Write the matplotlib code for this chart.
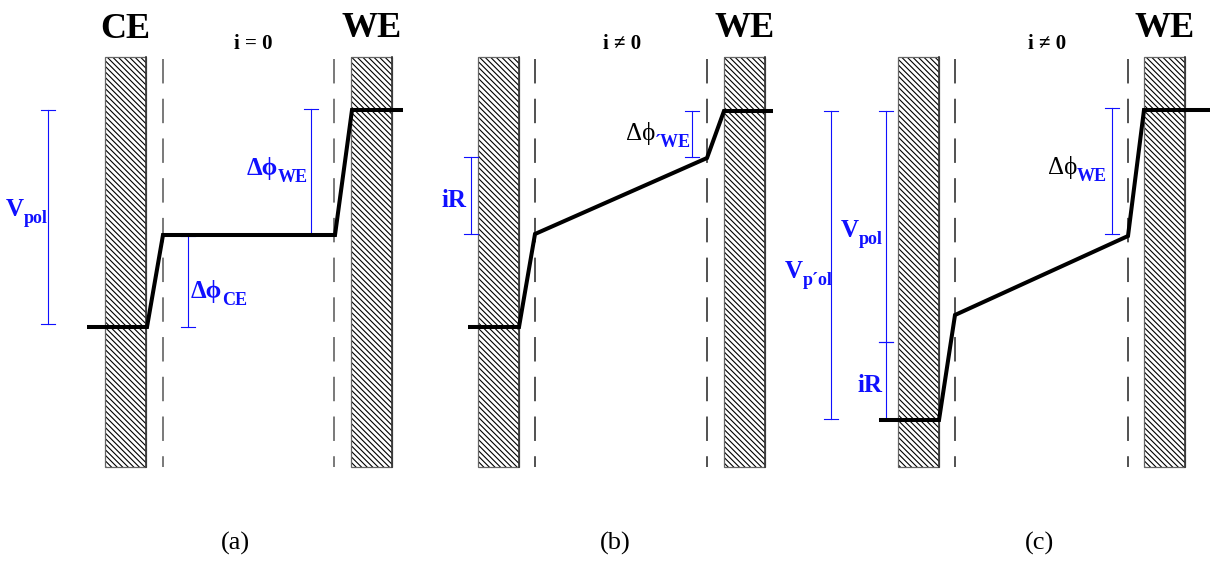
import matplotlib.pyplot as plt
from matplotlib.patches import Rectangle

plt.rcParams['font.family'] = ['Liberation Serif', 'DejaVu Serif']
plt.rcParams['hatch.linewidth'] = 0.8

## Panel captions and headers
panel_names = ["(a)", "(b)", "(c)"]
panel_currents = ["i = 0", "i \u2260 0", "i \u2260 0"]
name_x = [235, 615, 1040]
current_x = [253, 622, 1047]

## Electrodes: left edge of CE and WE blocks in each panel, block width
ce_left = [105, 478, 898]
we_left = [351, 724, 1144]
block_w = 41
block_top, block_bot = 57, 467

## Outer Helmholtz planes (dashed)
ohp_ce = [163, 535, 955]
ohp_we = [334, 707, 1128]
ohp_col = ["#555555", "#222222", "#222222"]

## Potential profiles: x nodes and potential (drawn downward in pixel units)
prof_x = [
    [87, 147, 163, 335, 352, 403],
    [468, 519, 535, 707, 724, 773],
    [879, 939, 955, 1128, 1144, 1210],
]
prof_y = [
    [327, 327, 235, 235, 110, 110],
    [327, 327, 234, 158, 111, 111],
    [420, 420, 315, 236, 110, 110],
]

## Blue dimension brackets: x, top, bottom
brackets = [
    (48, 110, 324), (311, 109, 235), (188, 236, 327),
    (471, 157, 234), (692, 111, 157),
    (831, 111, 419), (886, 111, 342), (886, 342, 419), (1112, 108, 234),
]

## Labels: split x, baseline, main text, subscript, main colour, main weight
PHI = "\u0394\u03d5"
labels = [
    (24, 216, "V", "pol", "blue", "bold"),
    (278, 175, PHI, "WE", "blue", "bold"),
    (222, 298, PHI, "CE", "blue", "bold"),
    (467, 207, "iR", "", "blue", "bold"),
    (655, 140, PHI, "\u00b4WE", "black", "normal"),
    (1077, 174, PHI, "WE", "black", "normal"),
    (859, 237, "V", "pol", "blue", "bold"),
    (803, 278, "V", "p\u00b4ol", "blue", "bold"),
    (883, 392, "iR", "", "blue", "bold"),
]

blue = "#1010ff"

fig = plt.figure(figsize=(12.1, 5.61), dpi=100)
ax = fig.add_axes([0, 0, 1, 1])
ax.set_xlim(0, 1210)
ax.set_ylim(561, 0)
ax.axis("off")

for k in range(3):
    ## hatched electrode blocks
    for xl in (ce_left[k], we_left[k]):
        ax.add_patch(Rectangle((xl, block_top), block_w, block_bot - block_top,
                               facecolor="white", edgecolor="black", lw=0,
                               hatch="\\" * 6, zorder=1))
        ax.add_patch(Rectangle((xl, block_top), block_w, block_bot - block_top,
                               fill=False, edgecolor="#666666", lw=0.9, zorder=2))
        ax.plot([xl + block_w, xl + block_w], [block_top, block_bot],
                color="#333333", lw=1.2, zorder=2)

    ## dashed planes
    for xd in (ohp_ce[k], ohp_we[k]):
        ln, = ax.plot([xd, xd], [block_top + 2, block_bot], color=ohp_col[k], lw=1.1)
        ln.set_dashes([16, 10])

    ## potential profile
    ax.plot(prof_x[k], prof_y[k], color="black", lw=2.9,
            solid_joinstyle="miter", solid_capstyle="butt", zorder=4)

    ## headers
    ax.text(name_x[k], 550, panel_names[k], ha="center", va="baseline", fontsize=19)
    ax.text(current_x[k], 49, panel_currents[k], ha="center", va="baseline",
            fontsize=15, fontweight="bold")
    ax.text(we_left[k] + block_w / 2, 37, "WE", ha="center", va="baseline",
            fontsize=26, fontweight="bold")

ax.text(ce_left[0] + block_w / 2, 38, "CE", ha="center", va="baseline",
        fontsize=26, fontweight="bold")

for x, y0, y1 in brackets:
    ax.plot([x, x], [y0, y1], color=blue, lw=0.8, zorder=3)
    for y in (y0, y1):
        ax.plot([x - 7, x + 7], [y, y], color=blue, lw=0.8, zorder=3)

for xs, yb, main, sub, col, wt in labels:
    c = blue if col == "blue" else "black"
    size = 18
    ax.text(xs, yb, main, ha="right", va="baseline",
            fontsize=size, fontweight=wt, color=c, zorder=5)
    if sub:
        ax.text(xs, yb + 7, sub, ha="left", va="baseline", fontsize=13,
                fontweight="bold", color=blue, zorder=5)

fig.savefig("out.png", dpi=100)
